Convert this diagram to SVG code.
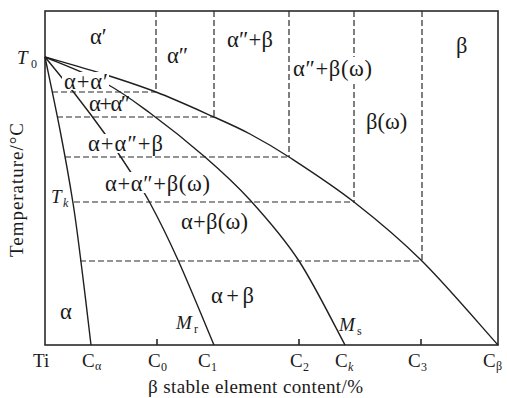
<svg xmlns="http://www.w3.org/2000/svg" width="507" height="398" viewBox="0 0 507 398">
<style>
text{font-family:"Liberation Serif","Times New Roman",serif;font-size:19px;fill:#1a1a1a}
.g{font-size:22.5px}
.it{font-style:italic}
.sub{font-size:12px}
.frame{fill:none;stroke:#2a2a2a;stroke-width:1.6}
.curve{fill:none;stroke:#1f1f1f;stroke-width:1.4}
.dash{fill:none;stroke:#2a2a2a;stroke-width:1.2;stroke-dasharray:6 3}
.bg{fill:#fff}
</style>
<rect width="507" height="398" fill="#fff"/>
<g id="frame">
<rect class="frame" x="45" y="11" width="453" height="334"/>
<path class="frame" d="M157 345V339M299 345V339M421 345V339"/>
</g>
<g id="connectors">
<path class="dash" d="M156 11V92M214 11V117M289 11V157M354 11V202M422 11V261"/>
<path class="dash" d="M52 92H156M57 117H214M65 157H289M74 202H354M80 261H422"/>
<path id="outer" class="curve" d="M45 57C54.2 59.7 81.5 67.2 100 73C118.5 78.8 137 84.7 156 92C175 99.3 198.3 110 214 117C229.7 124 237.5 127.3 250 134C262.5 140.7 271.7 145.7 289 157C306.3 168.3 331.8 184.7 354 202C376.2 219.3 398 237.2 422 261C446 284.8 485.3 331 498 345"/>
<path id="ms" class="curve" d="M45 57C55 61.3 87.5 73.7 105 83C122.5 92.3 133.3 100.7 150 113C166.7 125.3 188.3 142.5 205 157C221.7 171.5 234.3 182.7 250 200C265.7 217.3 283.2 236.8 299 261C314.8 285.2 337.3 331 345 345"/>
<path id="mr" class="curve" d="M45 57C50 63.2 65 81.2 75 94C85 106.8 95.8 121.2 105 134C114.2 146.8 122.5 159.5 130 171C137.5 182.5 142 188.2 150 203C158 217.8 167.3 236.3 178 260C188.7 283.7 208 330.8 214 345"/>
<path id="calpha" class="curve" d="M45 57C47.5 69.2 55.3 105.7 60 130C64.7 154.3 69.3 179.7 73 203C76.7 226.3 79 246.3 82 270C85 293.7 89.5 332.5 91 345"/>
</g>
<g id="region-labels">
<text class="g" x="90" y="44">α′</text>
<text class="g" x="167" y="63">α″</text>
<text class="g" x="227" y="47" textLength="46" lengthAdjust="spacing">α″+β</text>
<rect class="bg" x="291" y="57" width="83" height="27"/>
<text class="g" x="293" y="76" textLength="79" lengthAdjust="spacing">α″+β(ω)</text>
<text class="g" x="366" y="129">β(ω)</text>
<text class="g" x="456" y="53">β</text>
<rect class="bg" x="62" y="72" width="47" height="18"/>
<text class="g" x="64" y="89" textLength="44" lengthAdjust="spacing">α+α′</text>
<text class="g" x="89" y="111" textLength="41" lengthAdjust="spacing">α+α″</text>
<rect class="bg" x="86" y="134" width="79" height="19"/>
<text class="g" x="88" y="151" textLength="75" lengthAdjust="spacing">α+α″+β</text>
<rect class="bg" x="103" y="172" width="109" height="21"/>
<text class="g" x="105" y="191" textLength="105" lengthAdjust="spacing">α+α″+β(ω)</text>
<text class="g" x="181" y="229" textLength="67" lengthAdjust="spacing">α+β(ω)</text>
<text class="g" x="211" y="303" textLength="43" lengthAdjust="spacing">α+β</text>
<text class="g" x="60" y="319">α</text>
<text class="it" font-size="20" x="176" y="329">M</text><text class="sub" x="194" y="333">r</text>
<text class="it" font-size="20" x="339" y="331">M</text><text class="sub" x="357" y="335">s</text>
<text class="it" font-size="20" x="17" y="64">T</text><text class="sub" x="31" y="68">0</text>
<text class="it" font-size="20" x="51" y="203">T</text><text class="sub it" x="63" y="207">k</text>
</g>
<g id="axis-labels">
<text x="33" y="367">Ti</text>
<text x="82" y="367">C</text><text class="sub" x="95" y="370">α</text>
<text x="148" y="367">C</text><text class="sub" x="161" y="371">0</text>
<text x="198" y="367">C</text><text class="sub" x="211" y="371">1</text>
<text x="290" y="367">C</text><text class="sub" x="303" y="371">2</text>
<text x="335" y="367">C</text><text class="sub it" x="348" y="371">k</text>
<text x="408" y="367">C</text><text class="sub" x="421" y="371">3</text>
<text x="483" y="367">C</text><text class="sub" x="496" y="370">β</text>
<text x="148" y="393" textLength="215" lengthAdjust="spacing">β stable element content/%</text>
<text transform="translate(23 190) rotate(-90)" text-anchor="middle" textLength="134" lengthAdjust="spacing">Temperature/°C</text>
</g>
</svg>
